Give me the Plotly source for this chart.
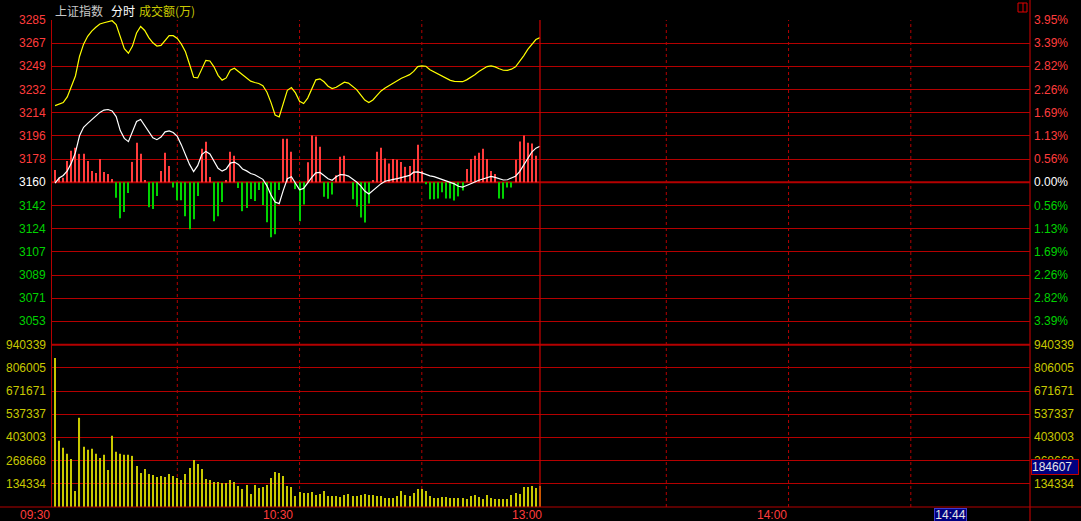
import plotly.graph_objects as go

# ---------------- data ----------------
PRE_CLOSE = 3160.2          # previous close (0.00% line)
STEP = 17.834               # price grid step (0.564 %)
VOL_STEP = 134334           # volume grid step (万)

price_tick_labels = ["3285", "3267", "3249", "3232", "3214", "3196", "3178",
                     "3160", "3142", "3124", "3107", "3089", "3071", "3053"]
pct_tick_labels = ["3.95%", "3.39%", "2.82%", "2.26%", "1.69%", "1.13%", "0.56%",
                   "0.00%", "0.56%", "1.13%", "1.69%", "2.26%", "2.82%", "3.39%"]
price_tick_steps = [7, 6, 5, 4, 3, 2, 1, 0, -1, -2, -3, -4, -5, -6]
vol_tick_labels = ["940339", "806005", "671671", "537337", "403003", "268668", "134334"]
vol_tick_steps = [7, 6, 5, 4, 3, 2, 1]

time_labels = ["09:30", "10:30", "13:00", "14:00"]
time_label_slots = [-0.75, 59, 120, 180]
half_hour_slots = [30, 60, 90, 150, 180, 210]
cursor_slot = 119

# index line (white), 1-minute points 09:31 .. 11:30
white_line = [
    3159.5, 3163.5, 3165.5, 3169.0, 3175.0, 3183.0, 3196.0, 3202.5, 3205.5, 3208.5,
    3211.5, 3214.0, 3215.8, 3216.2, 3215.1, 3210.8, 3200.0, 3194.0, 3191.5, 3199.0,
    3207.0, 3208.5, 3204.0, 3199.0, 3194.5, 3193.0, 3195.0, 3199.0, 3199.8, 3198.5,
    3195.5, 3189.0, 3181.5, 3174.0, 3168.5, 3173.0, 3181.5, 3184.0, 3182.0, 3176.0,
    3171.0, 3168.8, 3170.5, 3175.0, 3175.8, 3174.0, 3170.5, 3169.0, 3167.0, 3166.0,
    3164.5, 3162.5, 3157.5, 3150.5, 3145.0, 3143.8, 3154.0, 3163.0, 3164.5, 3159.0,
    3154.5, 3155.5, 3160.0, 3164.0, 3167.5, 3167.8, 3165.5, 3163.0, 3161.8, 3164.5,
    3166.2, 3166.0, 3165.0, 3163.0, 3160.5, 3157.5, 3153.5, 3151.2, 3154.0, 3157.0,
    3159.2, 3161.0, 3162.0, 3162.5, 3163.1, 3163.8, 3164.3, 3165.5, 3168.0, 3168.2,
    3167.5, 3166.2, 3165.2, 3164.6, 3163.5, 3162.3, 3161.0, 3159.8, 3159.0, 3157.2,
    3156.5, 3157.8, 3159.2, 3160.7, 3161.8, 3162.8, 3164.0, 3164.7, 3164.0, 3162.8,
    3162.0, 3162.2, 3163.5, 3164.9, 3168.5, 3173.5, 3179.0, 3183.5, 3186.5, 3188.0,
]

# leading line (yellow)
yellow_line = [
    3219.2, 3220.2, 3221.5, 3225.9, 3233.5, 3242.0, 3257.0, 3266.5, 3272.5, 3276.5,
    3279.5, 3282.0, 3282.9, 3283.5, 3284.5, 3281.5, 3271.5, 3263.0, 3259.5, 3265.0,
    3275.0, 3280.0, 3277.0, 3271.5, 3267.5, 3265.0, 3265.5, 3269.0, 3273.0, 3273.0,
    3270.8, 3266.5, 3260.6, 3251.0, 3241.0, 3240.5, 3248.0, 3254.0, 3253.5, 3249.0,
    3242.5, 3238.8, 3240.5, 3246.5, 3248.0, 3245.5, 3242.3, 3240.0, 3238.0, 3237.0,
    3236.2, 3234.5, 3229.5, 3221.5, 3212.0, 3210.5, 3220.0, 3231.0, 3233.1, 3229.0,
    3222.5, 3220.8, 3225.0, 3232.5, 3239.0, 3239.8, 3237.5, 3234.1, 3232.3, 3233.3,
    3235.5, 3237.2, 3236.5, 3234.3, 3231.5, 3227.5, 3223.5, 3221.5, 3223.5, 3227.0,
    3230.5, 3232.8, 3234.6, 3236.8, 3238.7, 3240.2, 3241.6, 3243.0, 3245.5, 3249.2,
    3249.8, 3249.5, 3246.8, 3245.2, 3243.0, 3241.5, 3240.0, 3238.6, 3237.8, 3237.5,
    3237.6, 3239.0, 3240.8, 3243.0, 3245.5, 3247.4, 3249.2, 3249.8, 3249.0, 3247.5,
    3246.4, 3246.3, 3247.2, 3249.0, 3253.0, 3257.5, 3262.5, 3266.5, 3270.0, 3271.5,
]

# buy/sell strength bars around the previous close (index points)
strength = [
    9.5, 3.6, 3.6, 16.5, 24.2, 26.5, 21.9, 21.9, 16.5, 8.8,
    7.2, 18.0, 8.0, 6.4, 2.6, -11.9, -27.6, -22.9, -8.2, 15.7,
    30.4, 21.9, 1.8, -19.1, -20.6, -10.6, 8.8, 22.7, 12.6, -3.9,
    -13.7, -13.7, -26.0, -36.1, -28.3, -10.6, 25.8, 31.2, 4.1, -29.9,
    -26.0, -15.2, 1.8, 23.5, 20.4, -4.4, -22.2, -19.8, -12.9, -14.4,
    -5.9, -17.5, -30.7, -42.3, -39.9, -5.9, 33.5, 33.5, 23.5, -5.2,
    -29.9, -17.0, 15.5, 36.1, 35.3, 27.3, -11.1, -12.6, -9.3, 5.4,
    19.6, 20.4, 0.0, -13.1, -18.6, -27.1, -30.9, -16.2, 1.8, 23.5,
    26.5, 18.3, 14.4, 18.0, 17.3, 15.7, 11.9, 12.6, 18.0, 28.9,
    8.8, -1.5, -13.1, -13.1, -12.4, -7.7, -12.4, -12.4, -13.9, -10.8,
    -6.2, 10.3, 18.0, 20.4, 22.7, 25.8, 18.0, 8.8, 6.4, -12.4,
    -12.6, -3.9, -3.9, 17.3, 31.4, 36.1, 30.4, 29.9, 20.4, 0.0,
]

# turnover per minute (万)
turnover = [
    863300, 383250, 342600, 307800, 278700, 92900, 516800, 348400, 331000, 336800,
    307800, 284500, 302000, 214900, 412300, 319400, 307800, 302000, 302000, 296100,
    238100, 197400, 220700, 191600, 185800, 174200, 180000, 174200, 191600, 180000,
    168400, 156800, 191600, 226500, 272900, 249700, 220700, 162600, 156800, 145200,
    145200, 139400, 139400, 156800, 145200, 121900, 104500, 127800, 75500, 127800,
    110300, 116100, 127800, 168400, 203200, 197400, 180000, 121900, 116100, 63900,
    87100, 81300, 81300, 87100, 69700, 75500, 92900, 63900, 63900, 63900,
    58100, 69700, 75500, 63900, 63900, 69700, 75500, 69700, 69700, 63900,
    63900, 52300, 52300, 52300, 63900, 92900, 69700, 63900, 81300, 104500,
    104500, 92900, 63900, 52300, 52300, 58100, 58100, 52300, 52300, 52300,
    52300, 46500, 63900, 69700, 58100, 46500, 69700, 52300, 46500, 46500,
    46500, 46500, 69700, 81300, 75500, 116100, 116100, 121900, 110300, 121900,
]

current_turnover_text = "184607"
cursor_time_text = "14:44"
header_name = "上证指数"
header_mode = "分时"
header_unit = "成交额(万)"

# ---------------- style ----------------
BG = "#000000"
GRID = "#b40000"
RED = "#ff3c3c"
GREEN = "#00d200"
WHITE = "#ffffff"
VOL_YELLOW = "#c8c800"
LINE_YELLOW = "#ffff00"
FONT = "Liberation Sans, Arial, sans-serif"
CJK = "Noto Sans CJK SC, sans-serif"

W, H = 1081, 521
ML, MR, MT, MB = 52, 51, 20, 14
PW, PH = W - ML - MR, H - MT - MB
VOL_FRAC = 7.5 / 21.0

slots = list(range(len(white_line)))
price_ticks = [PRE_CLOSE + k * STEP for k in price_tick_steps]
vol_ticks = [k * VOL_STEP for k in vol_tick_steps]

fig = go.Figure()

fig.add_trace(go.Bar(
    x=slots, y=strength, base=PRE_CLOSE, width=0.26,
    marker=dict(color=[RED if v >= 0 else GREEN for v in strength], line=dict(width=0)),
    xaxis="x", yaxis="y", hoverinfo="skip", showlegend=False))

fig.add_trace(go.Bar(
    x=slots, y=turnover, width=0.26,
    marker=dict(color=VOL_YELLOW, line=dict(width=0)),
    xaxis="x", yaxis="y2", hoverinfo="skip", showlegend=False))

fig.add_trace(go.Scatter(
    x=slots, y=white_line, mode="lines", line=dict(color=WHITE, width=1.2),
    xaxis="x", yaxis="y", hoverinfo="skip", showlegend=False))

fig.add_trace(go.Scatter(
    x=slots, y=yellow_line, mode="lines", line=dict(color=LINE_YELLOW, width=1.2),
    xaxis="x", yaxis="y", hoverinfo="skip", showlegend=False))

axis_common = dict(showgrid=True, gridcolor=GRID, gridwidth=1, zeroline=False,
                   showticklabels=False, ticks="", showline=True, linecolor=GRID,
                   linewidth=1, fixedrange=True)

fig.update_layout(
    width=W, height=H,
    margin=dict(l=ML, r=MR, t=MT, b=MB, pad=0),
    paper_bgcolor=BG, plot_bgcolor=BG,
    barmode="overlay",
    xaxis=dict(domain=[0, 1], range=[-0.75, 239.25], anchor="y2",
               showgrid=False, zeroline=False, showticklabels=False,
               ticks="", showline=False, fixedrange=True),
    yaxis=dict(domain=[VOL_FRAC, 1],
               range=[PRE_CLOSE - 6.5 * STEP, PRE_CLOSE + 7 * STEP],
               tickvals=price_ticks, anchor="x", **axis_common),
    yaxis2=dict(domain=[0, VOL_FRAC], range=[0, 7.5 * VOL_STEP],
                tickvals=vol_ticks, anchor="x", **axis_common),
)

shapes = []
# thick zero line and panel separator
shapes.append(dict(type="line", xref="paper", yref="y", x0=0, x1=1,
                   y0=PRE_CLOSE, y1=PRE_CLOSE, line=dict(color=GRID, width=2), layer="below"))
shapes.append(dict(type="line", xref="paper", yref="y2", x0=0, x1=1,
                   y0=7 * VOL_STEP, y1=7 * VOL_STEP, line=dict(color=GRID, width=2), layer="below"))
# half-hour dotted verticals
for s in half_hour_slots:
    shapes.append(dict(type="line", xref="x", yref="paper", x0=s, x1=s, y0=0, y1=1,
                       line=dict(color=GRID, width=1, dash="dot"), layer="below"))
# cursor line
shapes.append(dict(type="line", xref="x", yref="paper", x0=cursor_slot, x1=cursor_slot,
                   y0=0, y1=1, line=dict(color="#d00000", width=1.2)))
# bottom axis line across full width
shapes.append(dict(type="line", xref="paper", yref="paper", x0=-ML / PW, x1=1 + MR / PW,
                   y0=0, y1=0, line=dict(color=GRID, width=1.2)))
# right border full height
shapes.append(dict(type="line", xref="paper", yref="paper", x0=1, x1=1,
                   y0=-MB / PH, y1=1 + MT / PH, line=dict(color=GRID, width=1.2)))
# small window icon at top right
shapes.append(dict(type="rect", xref="paper", yref="paper",
                   x0=(1018 - ML) / PW, x1=(1027 - ML) / PW,
                   y0=1 + (MT - 12) / PH, y1=1 + (MT - 3) / PH,
                   line=dict(color="#e00000", width=1)))
shapes.append(dict(type="line", xref="paper", yref="paper",
                   x0=(1023 - ML) / PW, x1=(1023 - ML) / PW,
                   y0=1 + (MT - 12) / PH, y1=1 + (MT - 3) / PH,
                   line=dict(color="#e00000", width=1)))
fig.update_layout(shapes=shapes)

ann = []
for lab, pct, k, tv in zip(price_tick_labels, pct_tick_labels, price_tick_steps, price_ticks):
    col = RED if k > 0 else (WHITE if k == 0 else GREEN)
    ann.append(dict(text=lab, xref="paper", yref="y", x=-4 / PW, y=tv,
                    xanchor="right", yanchor="middle", showarrow=False,
                    font=dict(family=FONT, size=12, color=col)))
    ann.append(dict(text=pct, xref="paper", yref="y", x=1 + 2 / PW, y=tv,
                    xanchor="left", yanchor="middle", showarrow=False,
                    font=dict(family=FONT, size=12, color=col)))
for lab, tv in zip(vol_tick_labels, vol_ticks):
    ann.append(dict(text=lab, xref="paper", yref="y2", x=-4 / PW, y=tv,
                    xanchor="right", yanchor="middle", showarrow=False,
                    font=dict(family=FONT, size=12, color=VOL_YELLOW)))
    ann.append(dict(text=lab, xref="paper", yref="y2", x=1 + 2 / PW, y=tv,
                    xanchor="left", yanchor="middle", showarrow=False,
                    font=dict(family=FONT, size=12, color=VOL_YELLOW)))
for lab, s in zip(time_labels, time_label_slots):
    ann.append(dict(text=lab, xref="x", yref="paper", x=s, y=-7.5 / PH,
                    xanchor="right", yanchor="middle", showarrow=False,
                    font=dict(family=FONT, size=12, color=RED)))
# current turnover marker (covers the right-hand 268668 label as in the source)
ann.append(dict(text=current_turnover_text, xref="paper", yref="paper",
                x=1 + 1 / PW, y=(507 - 467) / PH,
                xanchor="left", yanchor="middle", showarrow=False,
                width=46, height=14, align="left",
                bgcolor="#000080", bordercolor="#c00000", borderwidth=1, borderpad=0,
                font=dict(family=FONT, size=12, color="#e6e6e6")))
# cursor time box
ann.append(dict(text=cursor_time_text, xref="paper", yref="paper",
                x=(950.5 - ML) / PW, y=-7.5 / PH, xanchor="center", yanchor="middle",
                showarrow=False, width=31, height=12, bgcolor="#000080",
                bordercolor="#3c3cd0", borderwidth=1, borderpad=0,
                font=dict(family=FONT, size=12, color="#e6e6e6")))
# header
ann.append(dict(text=header_name, xref="paper", yref="paper", x=(53 - ML) / PW,
                y=1 + 10 / PH, xanchor="left", yanchor="middle", showarrow=False,
                font=dict(family=CJK, size=12, color="#c8c8c8")))
ann.append(dict(text=header_mode, xref="paper", yref="paper", x=(109 - ML) / PW,
                y=1 + 10 / PH, xanchor="left", yanchor="middle", showarrow=False,
                font=dict(family=CJK, size=12, color=WHITE)))
ann.append(dict(text=header_unit, xref="paper", yref="paper", x=(137 - ML) / PW,
                y=1 + 10 / PH, xanchor="left", yanchor="middle", showarrow=False,
                font=dict(family=CJK, size=12, color=VOL_YELLOW)))
fig.update_layout(annotations=ann)

fig.write_html(
    "out.html",
    config={"displayModeBar": False, "responsive": False},
    post_script="document.body.style.margin='0px';document.body.style.background='#000000';",
)
